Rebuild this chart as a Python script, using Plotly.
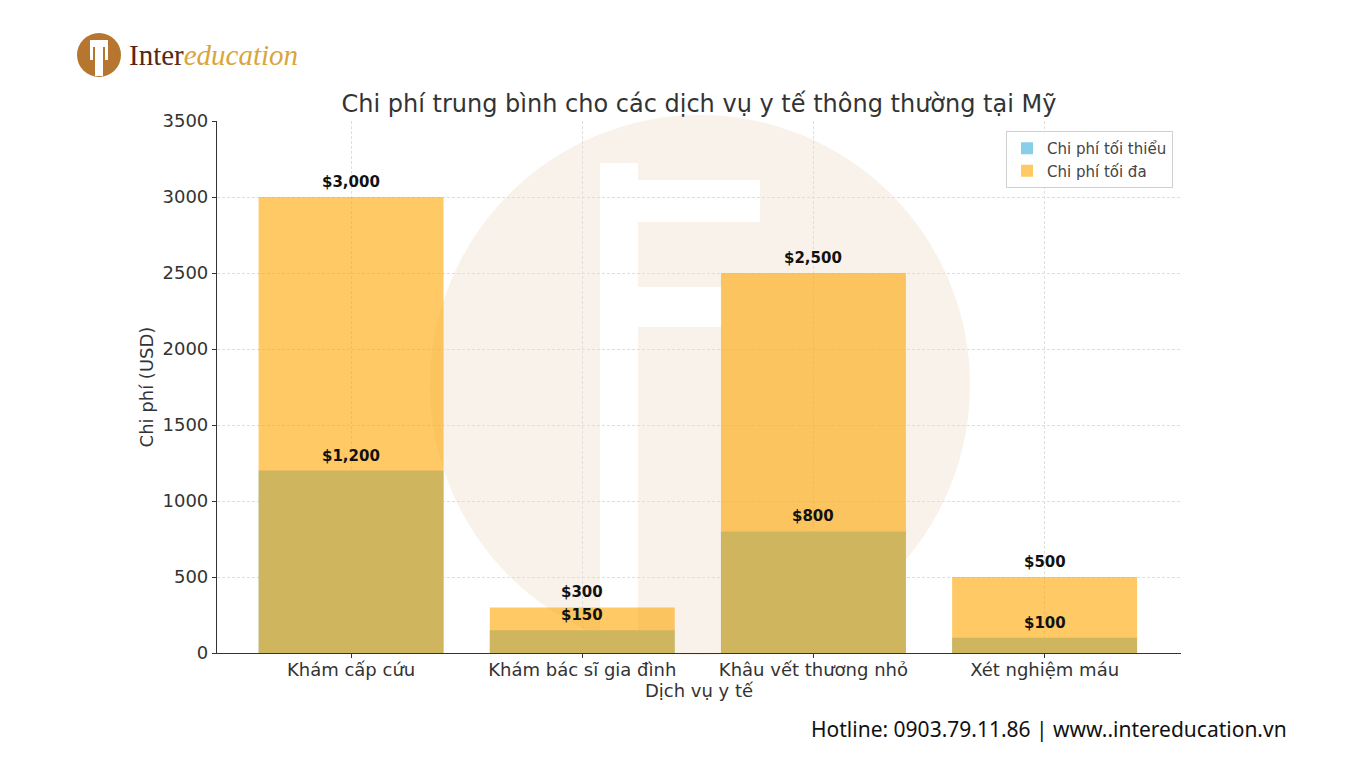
import plotly.graph_objects as go

categories = ["Khám cấp cứu", "Khám bác sĩ gia đình", "Khâu vết thương nhỏ", "Xét nghiệm máu"]
min_cost = [1200, 150, 800, 100]
max_cost = [3000, 300, 2500, 500]
y_ticks = [0, 500, 1000, 1500, 2000, 2500, 3000, 3500]

title = "Chi phí trung bình cho các dịch vụ y tế thông thường tại Mỹ"
x_title = "Dịch vụ y tế"
y_title = "Chi phí (USD)"
name_min = "Chi phí tối thiểu"
name_max = "Chi phí tối đa"

FONT = "DejaVu Sans"
W, H = 1366, 768
L, R, T, B = 217, 1181, 121, 653  # plot area in pixels


def px(x, y):
    """pixel -> paper coordinates (paper = plot area in plotly)"""
    return (x - L) / (R - L), (B - y) / (B - T)


fig = go.Figure()
fig.add_trace(go.Bar(x=categories, y=min_cost, name=name_min, width=0.8,
                     marker=dict(color="#87CEEB", line=dict(width=0))))
fig.add_trace(go.Bar(x=categories, y=max_cost, name=name_max, width=0.8,
                     marker=dict(color="rgba(255,165,0,0.6)", line=dict(width=0))))

shapes = []
# watermark circle and "i" cut-outs
cx, cy, r = 700, 385, 270
x0, y1 = px(cx - r, cy - r)
x1, y0 = px(cx + r, cy + r)
shapes.append(dict(type="circle", xref="paper", yref="paper", x0=x0, x1=x1, y0=y0, y1=y1,
                   fillcolor="#f8f2ea", line=dict(width=0), layer="below"))
for (a, b, c, d) in [(600, 163, 638, 653), (638, 180, 760, 222), (638, 287, 722, 327)]:
    xa, yb = px(a, b)
    xc, yd = px(c, d)
    shapes.append(dict(type="rect", xref="paper", yref="paper", x0=xa, x1=xc, y0=yd, y1=yb,
                       fillcolor="#ffffff", line=dict(width=0), layer="below"))

# logo circle
lx0, ly1 = px(77, 33)
lx1, ly0 = px(121, 77)
shapes.append(dict(type="circle", xref="paper", yref="paper", x0=lx0, x1=lx1, y0=ly0, y1=ly1,
                   fillcolor="#b7762f", line=dict(width=0)))
for (a, b, c, d) in [(90, 40, 108, 47), (95, 47, 103, 76), (90, 47, 93, 60), (105, 47, 108, 60)]:
    xa, yb = px(a, b)
    xc, yd = px(c, d)
    shapes.append(dict(type="rect", xref="paper", yref="paper", x0=xa, x1=xc, y0=yd, y1=yb,
                       fillcolor="#ffffff", line=dict(width=0)))

annotations = []
for cat, v in zip(categories, max_cost):
    annotations.append(dict(x=cat, y=v, xref="x", yref="y", text=f"${v:,}", showarrow=False,
                            yanchor="bottom", yshift=4,
                            font=dict(family=FONT, size=15, color="#111", weight="bold")))
for cat, v in zip(categories, min_cost):
    annotations.append(dict(x=cat, y=v, xref="x", yref="y", text=f"${v:,}", showarrow=False,
                            yanchor="bottom", yshift=4,
                            font=dict(family=FONT, size=15, color="#111", weight="bold")))

ax, ay = px(127, 55)
annotations.append(dict(
    text="<span style='color:#5a2614'>Inter</span><span style='color:#d9a63c'><i>education</i></span>",
    xref="paper", yref="paper", x=ax, y=ay, xanchor="left", yanchor="middle",
    showarrow=False, font=dict(family="Liberation Serif", size=29)))
hx, hy = px(1289, 729)
annotations.append(dict(
    text="Hotline: 0903.79.11.86 | www..intereducation.vn",
    xref="paper", yref="paper", x=hx, y=hy, xanchor="right", yanchor="middle",
    showarrow=False, font=dict(family="Noto Sans", size=21, color="#111")))

lgx, lgy = px(1173, 131)

fig.update_layout(
    width=W, height=H,
    barmode="overlay",
    paper_bgcolor="white", plot_bgcolor="rgba(0,0,0,0)",
    margin=dict(l=L, r=W - R, t=T, b=H - B),
    title=dict(text=title, x=699 / W, xanchor="center", y=1 - 104 / H, yanchor="middle",
               font=dict(family=FONT, size=24, color="#333")),
    font=dict(family=FONT, color="#333"),
    xaxis=dict(range=[-0.58, 3.59], showgrid=True, gridcolor="#dedede", griddash="3px,2px",
               gridwidth=1, showline=True, linecolor="#333", linewidth=1.2,
               ticks="outside", ticklen=4, tickcolor="#333", ticklabelstandoff=-4,
               tickfont=dict(family=FONT, size=18, color="#333"),
               title=dict(text=x_title, font=dict(family=FONT, size=18, color="#333"), standoff=4)),
    yaxis=dict(range=[0, 3500], tickvals=y_ticks, showgrid=True, gridcolor="#dedede",
               griddash="3px,2px", gridwidth=1, showline=True, linecolor="#333", linewidth=1.2,
               ticks="outside", ticklen=4, tickcolor="#333", zeroline=False,
               tickfont=dict(family=FONT, size=18, color="#333"),
               title=dict(text=y_title, font=dict(family=FONT, size=18, color="#333"), standoff=4)),
    legend=dict(x=lgx, y=lgy, xanchor="right", yanchor="top",
                bgcolor="rgba(255,255,255,0.85)", bordercolor="#d0d0d0",
                borderwidth=1, font=dict(family=FONT, size=15, color="#444")),
    shapes=shapes,
    annotations=annotations,
    showlegend=True,
)

fig.write_html("out.html")
